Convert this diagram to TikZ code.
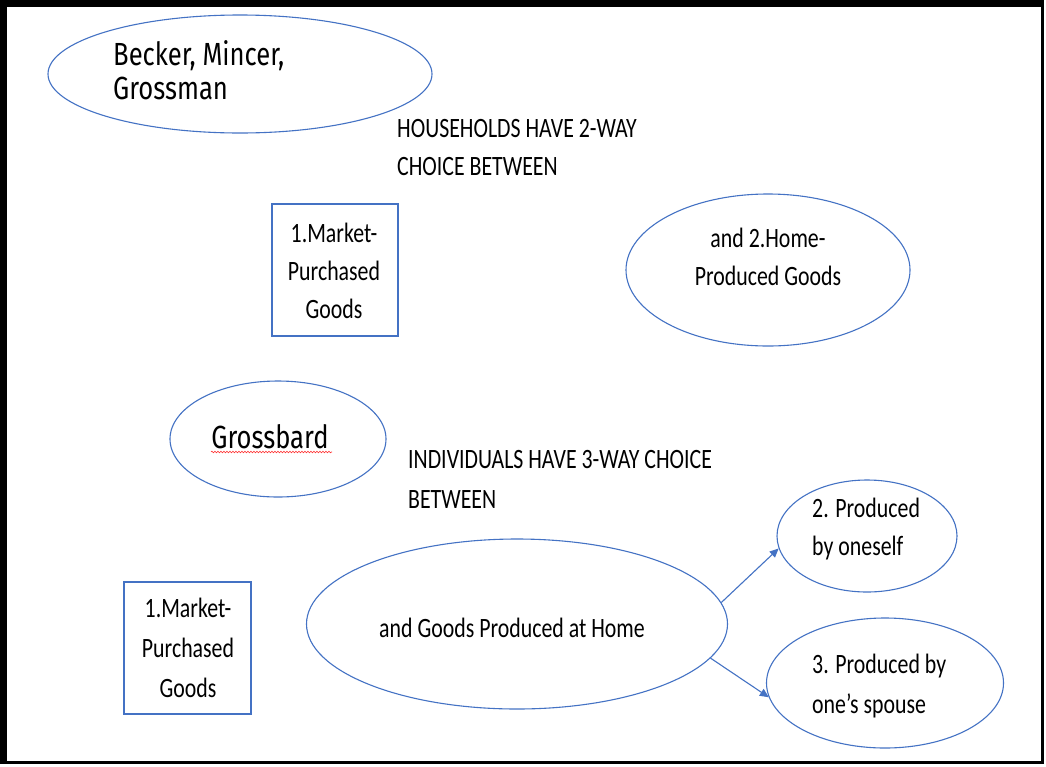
\documentclass[tikz,border=0pt]{standalone}
\usepackage{fontspec}
\setmainfont{Carlito}[FakeStretch=0.78]
\newfontfamily\handf{Fira Sans}[FakeStretch=0.8]
\usetikzlibrary{shapes.geometric,arrows.meta,decorations.pathmorphing}
\definecolor{obl}{HTML}{4472C4}
\begin{document}
\begin{tikzpicture}[x=1pt,y=-1pt,
  oval/.style={ellipse, draw=obl, line width=1.1pt, inner sep=0pt},
  boxnode/.style={draw=obl, line width=1.1pt, inner sep=0pt},
  txt/.style={font=\fontsize{28}{38}\selectfont, inner sep=0pt},
  txtw/.style={font=\fontsize{28}{40}\selectfont, inner sep=0pt},
  hand/.style={font=\handf\fontsize{32}{34}\selectfont, inner sep=0pt},
  conn/.style={draw=obl, line width=1.1pt, -{Triangle[length=9pt,width=8pt]}}]
\useasboundingbox (0,0) rectangle (1046,766);
% frame
\fill[black] (0,0) rectangle (1044,764);
\fill[white] (7,7) rectangle (1041,761);

% top half
\node[oval, minimum width=384pt, minimum height=118pt] (bmg) at (240,74) {};
\node[hand, align=left, anchor=base west] (bmgt) at (113,99) {Becker, Mincer,\\Grossman};
\node[txt, align=left, anchor=base west] (hh) at (397,175) {HOUSEHOLDS HAVE 2-WAY\\CHOICE BETWEEN};
\node[boxnode, minimum width=126pt, minimum height=132pt] (mp1) at (335,270) {};
\node[txt, align=center, anchor=base] (mp1t) at (334,318) {1.Market-\\Purchased\\Goods};
\node[oval, minimum width=284pt, minimum height=152pt] (hp) at (768,270) {};
\node[txt, align=center, anchor=base] (hpt) at (768,285) {and 2.Home-\\Produced Goods};

% bottom half
\node[oval, minimum width=216pt, minimum height=116pt] (gb) at (278,439) {};
\node[hand, anchor=base] (gbt) at (270,448) {Grossbard};
\draw[red!80, line width=0.6pt, decorate, decoration={snake, amplitude=0.8pt, segment length=3pt}] (211,452) -- (332,452);
\node[txtw, align=left, anchor=base west] (ind) at (408,508) {INDIVIDUALS HAVE 3-WAY CHOICE\\BETWEEN};
\node[boxnode, minimum width=127pt, minimum height=132pt] (mp2) at (187.5,648) {};
\node[txtw, align=center, anchor=base] (mp2t) at (188,697) {1.Market-\\Purchased\\Goods};
\node[oval, minimum width=421pt, minimum height=170pt] (home) at (517,624) {};
\node[txt, anchor=base] (homet) at (512,637) {and Goods Produced at Home};
\node[oval, minimum width=180pt, minimum height=112pt] (p1) at (867,536) {};
\node[txt, align=left, anchor=base west] (p1t) at (812,555) {2. Produced\\by oneself};
\node[oval, minimum width=237pt, minimum height=130pt] (p2) at (885,683) {};
\node[txtw, align=left, anchor=base west] (p2t) at (812,713) {3. Produced by\\one’s spouse};

\draw[conn] (home.6) -- (p1.188);
\draw[conn] (home.-10) -- (p2.187);
\end{tikzpicture}
\end{document}
